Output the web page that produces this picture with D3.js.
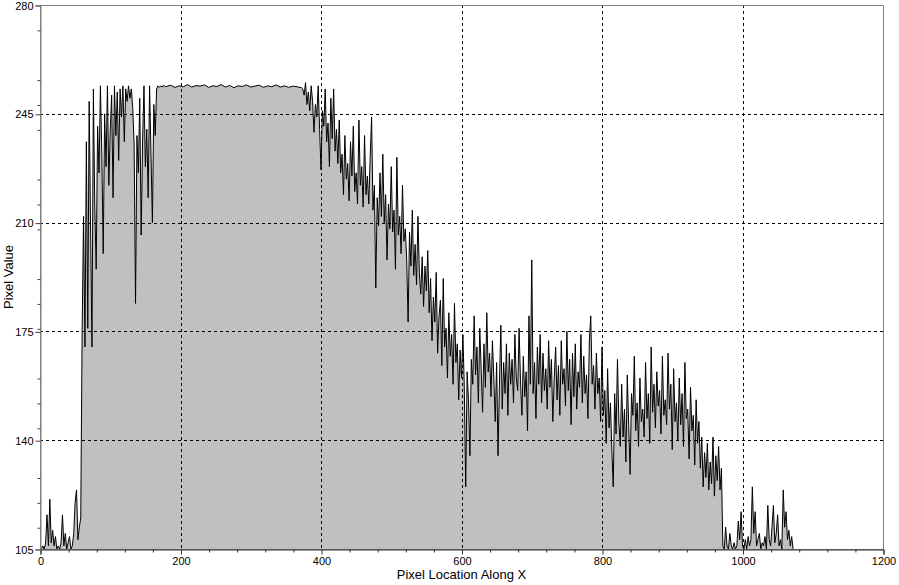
<!DOCTYPE html>
<html>
<head>
<meta charset="utf-8">
<script src="https://cdn.jsdelivr.net/npm/d3@7"></script>
<style>
  html, body { margin: 0; padding: 0; background: #ffffff; }
  svg { display: block; }
  text { font-family: "Liberation Sans", Arial, sans-serif; fill: #000; }
</style>
</head>
<body>
<svg id="chart" width="899" height="585"></svg>
<script>
// ---- data: pixel values, each segment has its own start and step ----
const profileStart = [105,105,106,105,107,116,106,121,107,111,106,109,105,106,105,107,116,106,110,105,
                      107,109,105,106,110,120,124,108,112];                       // x = 0..56, step 2
const profileRise = [115,176,212,170,236,176,249,208,170,253,215,195,241,226,254,232,200,245,228,254,
                     222,240,251,218,254,238,252,230,253,244,254,236,253,249,254,250,253,247,235,184,
                     238,226,250,206,236,254,228,240,218,254,232,210,248,238,253,254,253.5,254,253.6,254.2,
                     253.7];                                                        // x = 58..178, step 2
const profilePlateau = [253.8,254.2,253.5,254.0,253.7,254.4,253.6,254.1,253.9,254.3,253.5,254.0,253.8,254.4,253.6,254.1,
                        253.4,254.0,253.8,254.3,253.6,253.9,254.2,253.5,254.0,253.7,254.3,253.6,254.0,253.5,253.9,253.7,
                        253.4];                                                     // x = 180..372, step 6
const profileDecline = [253,251,255,248,252,246,254,249,239,248,244,254,240,227,246,241,253,236,242,228,
                        250,237,253,233,240,229,243,226,232,219,238,224,229,217,236,225,241,220,226,216,
                        243,222,228,215,238,219,225,216,231,244,214,222,189,218,209,226,212,232,210,219,
                        198,216,208,228,207,214,195,231,206,212,200,222,204,208,198,178,207,196,214,193,
                        203,190,212,194,187,199,183,196,188,201,181,192,172,186,178,194,168,180,185,164,
                        192,170,176,160,181,167,174,158,184,165,171,153,169,160,174,157,125,162,153,135];  // x = 374..612, step 2
const profileShoulder = [166,158,180,161,170,152,176,163,149,171,157,181,162,168,154,172,160,146,165,135,
                         158,177,150,165,155,171,148,168,158,166,152,174,160,156,176,159,148,167,154,162,
                         143,180,158,198,155,165,147,170,158,174,152,168,156,163,150,172,157,166,146,160,
                         170,153,164,148,172,158,163,151,175,156,166,145,168,154,171,150,162,157,174,152,
                         167,155,161,147,172,180,158,164,150,168,155,160,146,170,148,156,139,163,144,152,
                         137,125,155,142,166,146,138,158,141,150,133,161,145,129,155,148,167,143,152,138,
                         160,146,150,141,165,147,155,139,170,149,158,144,162,151,156,142,167,148,153,145,
                         168,150,158,137,163,146,152,140,160,145,155,138,165,147,150,134,157,143,148,132,
                         153,139,146,131,141,125,136,128,139,124,133,126,141,122,135,127,138,124,131,106]; // x = 614..972, step 2
const profileTail = [105,112,106,105,110,106,105,107,105,106,114,108,117,106,105,108,105,109,106,108,
                     125,110,117,106,108,110,105,107,106,109,105,119,108,106,112,119,107,110,116,106,
                     108,105,124,112,117,108,111,106,109,105];                      // x = 974..1072, step 2

const segments = [
  { start: 0,   step: 2, values: profileStart },
  { start: 58,  step: 2, values: profileRise },
  { start: 180, step: 6, values: profilePlateau },
  { start: 374, step: 2, values: profileDecline },
  { start: 614, step: 2, values: profileShoulder },
  { start: 974, step: 2, values: profileTail }
];
const profile = segments.flatMap(s => s.values.map((v, i) => ({ x: s.start + i * s.step, v })));

const xDomain = [0, 1200];
const yDomain = [105, 280];
const xMajorTicks = [0, 200, 400, 600, 800, 1000, 1200];
const yMajorTicks = [105, 140, 175, 210, 245, 280];
const xMinorTicks = [40, 80, 120, 160, 240, 280, 320, 360, 440, 480, 520, 560, 640, 680, 720, 760,
                     840, 880, 920, 960, 1040, 1080, 1120, 1160];
const yMinorTicks = [112, 120, 128, 144, 152, 160, 176, 184, 192, 208, 216, 224, 240, 248, 256, 272];
const xTitle = "Pixel Location Along X";
const yTitle = "Pixel Value";

// ---- drawing ----
const svg = d3.select("#chart");
const plotL = 40, plotR = 883, plotT = 5, plotB = 549;
const x = d3.scaleLinear().domain(xDomain).range([plotL, plotR]);
const y = d3.scaleLinear().domain(yDomain).range([plotB, plotT]);

// filled profile
const area = d3.area().x(d => x(d.x)).y0(y(yDomain[0])).y1(d => y(d.v));
svg.append("path").datum(profile).attr("d", area).attr("fill", "#c0c0c0");

// grid
const gGrid = svg.append("g").attr("stroke", "#000").attr("stroke-width", 1)
  .attr("stroke-dasharray", "3,3").attr("shape-rendering", "crispEdges");
gGrid.selectAll("line.v").data(xMajorTicks.slice(1, -1)).join("line")
  .attr("class", "v")
  .attr("x1", d => Math.round(x(d)) + 0.5).attr("x2", d => Math.round(x(d)) + 0.5)
  .attr("y1", plotT).attr("y2", plotB);
gGrid.selectAll("line.h").data(yMajorTicks.slice(1, -1)).join("line")
  .attr("class", "h")
  .attr("y1", d => Math.round(y(d)) + 0.5).attr("y2", d => Math.round(y(d)) + 0.5)
  .attr("x1", plotL).attr("x2", plotR);

// profile line
const line = d3.line().x(d => x(d.x)).y(d => y(d.v));
svg.append("path").datum(profile).attr("d", line)
  .attr("fill", "none").attr("stroke", "#000").attr("stroke-width", 1)
  .attr("stroke-linejoin", "miter");

// frame
svg.append("rect").attr("x", plotL + 0.5).attr("y", plotT + 0.5)
  .attr("width", plotR - plotL).attr("height", plotB - plotT)
  .attr("fill", "none").attr("stroke", "#808080").attr("shape-rendering", "crispEdges");

// axes
const xAxis = d3.axisBottom(x).tickValues(xMajorTicks).tickSize(5).tickPadding(3)
  .tickFormat(d3.format("d"));
const gx = svg.append("g").attr("transform", `translate(0.5,${plotB + 0.5})`).call(xAxis);
gx.select(".domain").attr("stroke", "#303030");
gx.selectAll(".tick line").attr("stroke", "#303030");
gx.selectAll("text").attr("font-size", 11);

const xAxisMinor = d3.axisBottom(x).tickValues(xMinorTicks).tickSize(3).tickFormat("");
const gxm = svg.append("g").attr("transform", `translate(0.5,${plotB + 0.5})`).call(xAxisMinor);
gxm.select(".domain").remove();
gxm.selectAll(".tick line").attr("stroke", "#303030");

const yAxis = d3.axisLeft(y).tickValues(yMajorTicks).tickSize(5).tickPadding(2);
const gy = svg.append("g").attr("transform", `translate(${plotL + 0.5},0.5)`).call(yAxis);
gy.select(".domain").attr("stroke", "#808080");
gy.selectAll(".tick line").attr("stroke", "#404040");
gy.selectAll("text").attr("font-size", 11);

const yAxisMinor = d3.axisLeft(y).tickValues(yMinorTicks).tickSize(3).tickFormat("");
const gym = svg.append("g").attr("transform", `translate(${plotL + 0.5},0.5)`).call(yAxisMinor);
gym.select(".domain").remove();
gym.selectAll(".tick line").attr("stroke", "#404040");

svg.selectAll(".tick text").attr("font-family", "Liberation Sans, Arial, sans-serif");

// titles
svg.append("text").attr("x", (plotL + plotR) / 2).attr("y", 579)
  .attr("text-anchor", "middle").attr("font-size", 13).text(xTitle);
svg.append("text").attr("transform", `translate(13,${(plotT + plotB) / 2}) rotate(-90)`)
  .attr("text-anchor", "middle").attr("font-size", 13).text(yTitle);
</script>
</body>
</html>
